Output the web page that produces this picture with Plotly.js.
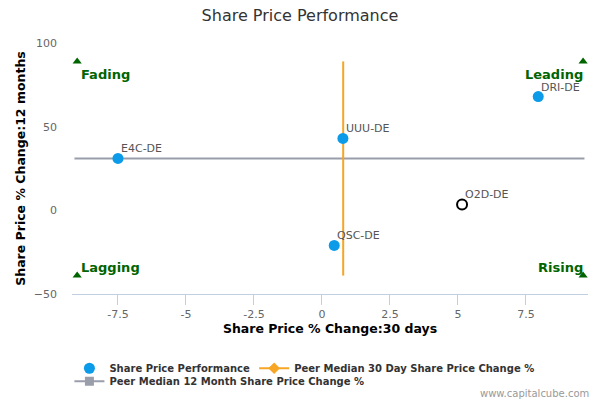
<!DOCTYPE html>
<html>
<head>
<meta charset="utf-8">
<script src="https://cdn.plot.ly/plotly-3.0.1.min.js"></script>
<style>
  body { margin: 0; background: #fff; }
  #grafica { width: 600px; height: 400px; }
</style>
</head>
<body>
<div id="grafica"></div>
<script>
// peers
const tickers = ["E4C-DE", "UUU-DE", "DRI-DE", "QSC-DE"];
const cambio30d = [-7.5, 0.77, 7.95, 0.45];
const cambio12m = [31, 43, 68, -21];

// the company itself
const empresa = ["O2D-DE"];
const empresa30d = [5.15];
const empresa12m = [3.5];

// peer medians and the span of their guide lines
const mediana30d = 0.78;
const mediana12m = 31;
const lineaVertY = [-39, 89];
const lineaHorizX = [-9.1, 9.65];

// quadrant corners
const esquinasX = [-9, 9.6, -9, 9.6];
const esquinasY = [89, 89, -39, -39];
const cuadrantes = ["Fading", "Leading", "Lagging", "Rising"];

const fuente = "DejaVu Sans, Verdana, sans-serif";

const trazas = [
  {
    type: "scatter",
    mode: "lines",
    x: lineaHorizX,
    y: [mediana12m, mediana12m],
    line: { color: "#9a9eab", width: 2 },
    showlegend: false,
    hoverinfo: "skip"
  },
  {
    type: "scatter",
    mode: "lines",
    x: [mediana30d, mediana30d],
    y: lineaVertY,
    line: { color: "#f7a524", width: 2 },
    showlegend: false,
    hoverinfo: "skip"
  },
  {
    type: "scatter",
    mode: "markers",
    x: esquinasX,
    y: esquinasY,
    marker: { symbol: "triangle-up", color: "#006400", size: 8 },
    showlegend: false,
    hoverinfo: "skip"
  },
  {
    type: "scatter",
    mode: "markers",
    name: "Share Price Performance",
    x: cambio30d,
    y: cambio12m,
    marker: { color: "#0b9be8", size: 11 }
  },
  {
    type: "scatter",
    mode: "markers",
    x: empresa30d,
    y: empresa12m,
    marker: { color: "#fff", size: 10, line: { color: "#000", width: 2 } },
    showlegend: false
  },
  // legend only
  {
    type: "scatter",
    mode: "lines+markers",
    name: "Peer Median 30 Day Share Price Change %",
    legend: "legend3",
    x: [null],
    y: [null],
    line: { color: "#f7a524", width: 2 },
    marker: { symbol: "diamond", color: "#f7a524", size: 9 }
  },
  {
    type: "scatter",
    mode: "lines+markers",
    name: "Peer Median 12 Month Share Price Change %",
    legend: "legend2",
    x: [null],
    y: [null],
    line: { color: "#9a9eab", width: 2 },
    marker: { symbol: "square", color: "#9a9eab", size: 9 }
  }
];

// point labels
const etiqueta = (texto, x, y) => ({
  x: x,
  y: y,
  xref: "x",
  yref: "y",
  text: texto,
  showarrow: false,
  xanchor: "left",
  yanchor: "bottom",
  xshift: 1,
  yshift: 1,
  font: { family: fuente, size: 11, color: "#555" }
});

const anotaciones = tickers.map((t, i) => etiqueta(t, cambio30d[i], cambio12m[i]));
empresa.forEach((t, i) => anotaciones.push(etiqueta(t, empresa30d[i], empresa12m[i])));

cuadrantes.forEach((nombre, i) => {
  anotaciones.push({
    x: esquinasX[i],
    y: esquinasY[i],
    xref: "x",
    yref: "y",
    text: "<b>" + nombre + "</b>",
    showarrow: false,
    xanchor: i % 2 === 0 ? "left" : "right",
    yanchor: i < 2 ? "top" : "bottom",
    xshift: 2,
    yshift: i < 2 ? -4 : -1,
    font: { family: fuente, size: 13, color: "#006400" }
  });
});

anotaciones.push({
  x: 1,
  y: 0,
  xref: "paper",
  yref: "paper",
  xanchor: "right",
  yanchor: "bottom",
  text: "www.capitalcube.com",
  showarrow: false,
  xshift: 3,
  yshift: -107,
  font: { family: fuente, size: 10, color: "#999" }
});

const leyenda = (x, y) => ({
  orientation: "h",
  x: x,
  xanchor: "left",
  y: y,
  yanchor: "top",
  bgcolor: "rgba(0,0,0,0)",
  font: { family: fuente, size: 10, color: "#333", weight: "bold" },
  tracegroupgap: 0
});

const layout = {
  width: 600,
  height: 400,
  margin: { l: 72, r: 12, t: 43, b: 106, autoexpand: false },
  paper_bgcolor: "#fff",
  plot_bgcolor: "#fff",
  font: { family: fuente, size: 11, color: "#333" },
  title: {
    text: "Share Price Performance",
    x: 0.5,
    y: 0.962,
    yanchor: "middle",
    font: { family: fuente, size: 16, color: "#333" }
  },
  xaxis: {
    range: [-9.19, 9.78],
    tickvals: [-7.5, -5, -2.5, 0, 2.5, 5, 7.5],
    ticktext: ["-7.5", "-5", "-2.5", "0", "2.5", "5", "7.5"],
    showgrid: false,
    zeroline: false,
    showline: true,
    linecolor: "#c0d0e0",
    linewidth: 1,
    ticks: "outside",
    ticklen: 10,
    tickcolor: "#c0d0e0",
    ticklabelstandoff: 0,
    tickfont: { family: fuente, size: 11, color: "#666" },
    title: {
      text: "<b>Share Price % Change:30 days</b>",
      standoff: 4,
      font: { family: fuente, size: 12.5, color: "#000" }
    }
  },
  yaxis: {
    range: [-50, 100],
    tickvals: [-50, 0, 50, 100],
    showgrid: false,
    zeroline: false,
    showline: false,
    ticks: "",
    ticklabelstandoff: 14,
    tickfont: { family: fuente, size: 11, color: "#666" },
    title: {
      text: "<b>Share Price % Change:12 months</b>",
      standoff: 5,
      font: { family: fuente, size: 12.5, color: "#000" }
    }
  },
  legend: leyenda(-0.005, -0.238),
  legend3: leyenda(0.353, -0.238),
  legend2: leyenda(-0.005, -0.29),
  annotations: anotaciones
};

Plotly.newPlot("grafica", trazas, layout, { staticPlot: true, displayModeBar: false });
</script>
</body>
</html>
